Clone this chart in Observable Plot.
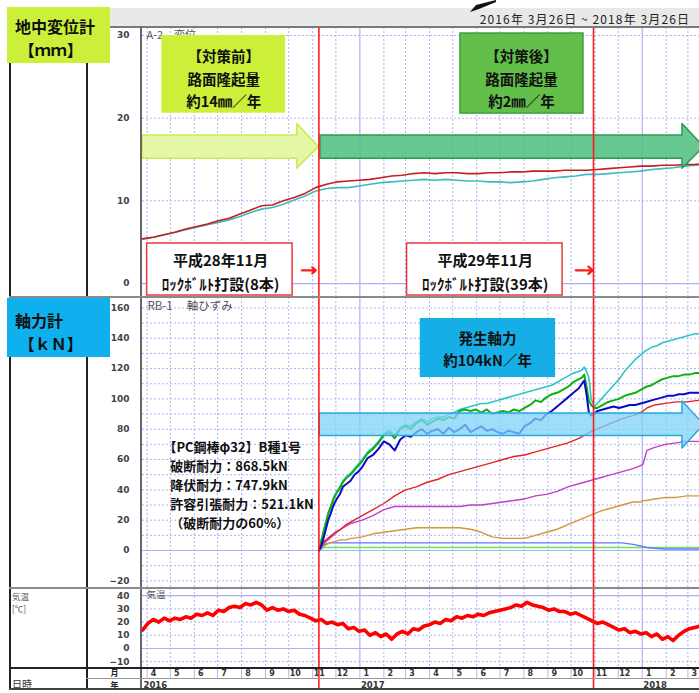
<!DOCTYPE html>
<html lang="ja"><head><meta charset="utf-8">
<script src="https://cdn.jsdelivr.net/npm/d3@7"></script>
<script src="https://cdn.jsdelivr.net/npm/@observablehq/plot@0.6"></script>
<style>
html,body{margin:0;padding:0;background:#fff}
#fig{position:relative;width:699px;height:693px;overflow:hidden;background:#fff;font-family:"Noto Sans CJK JP","Noto Sans",sans-serif}
#fig svg.plot{position:absolute;left:0;overflow:hidden}
.d{position:absolute;box-sizing:border-box;white-space:nowrap}
</style></head><body><div id="fig"></div><script>
// ---------------- data ----------------
const viewStart = "2016-03-26";
const viewEnd = "2018-03-16";
const headerText = "2016年 3月26日 ~ 2018年 3月26日";
const eventDates = ["2016-11-09", "2017-10-30"];

const dispTicks = [0, 10, 20, 30];
const forceTicks = [-20, 0, 20, 40, 60, 80, 100, 120, 140, 160];
const tempTicks = [-10, 0, 10, 20, 30, 40];
const yearLabels = ["2016", "2017", "2018"];
const yearLabelDates = ["2016-03-26", "2017-01-01", "2018-01-01"];

// 地中変位計 A-2 (mm), one value every 14 days from dispStart
const dispStart = "2016-03-26";
const dispStepDays = 14;
const dispRed = [5.4,5.6,5.9,6.2,6.6,6.9,7.2,7.6,7.9,8.4,8.9,9.4,9.5,10.0,10.4,10.9,11.6,12.0,12.3,12.4,12.5,12.6,12.8,13.0,13.1,13.3,13.4,13.3,13.4,13.4,13.3,13.3,13.4,13.4,13.5,13.5,13.6,13.6,13.6,13.7,13.7,13.7,13.8,13.9,14.0,14.1,14.2,14.2,14.3,14.3,14.4,14.4,14.5];
const dispCyan = [5.4,5.6,5.9,6.2,6.5,6.8,7.1,7.4,7.7,8.1,8.6,9.0,9.2,9.6,10.1,10.6,11.2,11.5,11.6,11.6,11.8,12.0,12.2,12.3,12.4,12.5,12.6,12.5,12.6,12.5,12.4,12.4,12.3,12.3,12.2,12.3,12.4,12.6,12.8,12.9,13.0,13.2,13.2,13.3,13.4,13.5,13.6,13.8,13.9,14.0,14.2,14.3,14.4];

// 軸力計 RB-1 (kN), days after forceStart
const forceStart = "2016-11-09";
const forceOffsets = [0,3,6,9,12,15,19,23,27,31,36,41,46,51,56,63,70,77,84,91,98,105,112,119,126,133,140,147,154,161,168,175,182,189,196,203,210,217,224,231,238,245,252,259,266,273,280,287,294,301,308,315,322,329,336,340,343,346,349,352,356,360,367,374,381,388,395,402,409,416,423,430,437,444,451,458,465,472,479,486,493,500];
const forceCyan = [0,7,13,19,25,29,35,39,42,46,49,51,54,57,60,65,68,72,77,79,76,81,83,82,85,87,85,87,88,88,90,91,93,94,95,96,97,97,98,99,100,101,102,103,104,105,106,107,108,109,111,113,115,117,118,119,121,118,114,100,95,97,101,105,109,113,118,122,126,129,132,134,135,137,138,139,140,141,142,143,143,144];
const forceGreen = [0,6,12,18,24,28,34,38,41,45,48,50,53,56,59,64,67,71,76,78,74,80,82,80,84,86,83,85,87,86,88,87,92,93,92,93,91,93,90,91,92,91,93,92,94,96,99,98,101,103,104,106,108,111,113,114,116,108,99,96,94,94,96,98,99,100,102,103,104,106,108,109,111,113,114,115,115,116,116,117,117,117];
const forceBlue = [0,3,8,14,20,24,30,34,37,42,44,46,50,52,55,61,63,67,72,70,66,73,76,75,78,80,77,79,80,77,81,78,80,83,78,80,82,79,80,78,77,79,78,77,82,84,87,86,90,92,95,98,101,104,107,110,112,103,91,89,90,92,93,94,95,94,95,96,96,97,98,99,100,101,102,102,103,103,104,104,104,105];
const smoothOffsets = [0,3,7,14,21,28,35,42,56,70,84,98,112,126,140,154,168,182,196,210,224,238,252,266,280,294,308,322,336,350,364,378,392,406,416,419,424,434,448,462,476,490,504];
const forceRed = [0,3,6,9,12,14,17,19,23,27,31,36,40,42,45,47,50,52,54,56,58,60,62,63,65,67,69,71,74,78,81,84,87,89,91,92,94,96,97,98,98,99,99];
const forceMagenta = [0,2,5,8,11,14,16,18,20,23,27,29,29,29,29,29,29,29,30,30,31,32,33,34,36,37,39,42,44,46,48,50,52,54,56,57,66,68,70,71,72,72,72];
const forceOrange = [0,2,3,5,6,7,7,8,9,11,12,13,14,15,15,15,15,15,14,12,9,8,8,8,10,12,14,17,20,23,26,28,30,32,32,33,33,34,35,35,36,36,36];
const forceLightBlue = [0,2,4,5,5,5,5,5,5,5,5,5,5,5,5,5,5,5,5,5,5,5,5,5,5,5,5,5,5,5,5,5,5,4,3,2.5,2,1.5,1,1,1,1,1];
const forceLightGreen = [0,1,2,2,2,2,2,2,2,2,2,2,2,2,2,2,2,2,2,2,2,2,2,2,2,2,2,2,2,2,2,2,2,2,2,2,2,2,2,2,2,2,2];

// 気温 (℃), one value every 7 days
const tempStart = "2016-03-26";
const tempStepDays = 7;
const tempValues = [14,19,22,20,23,21,23,22,24,23, 26,25,27,25,29,28,31,32,31,34, 33,35,33,29,31,29,30,28,29,26, 25,23,21,22,19,20,18,19,15,16, 13,14,10,12,9,11,7,11,13,11, 15,14,17,18,20,19,22,21,24,23, 25,24,26,25,27,28,29,30,31,33, 32,35,33,32,31,29,30,28,28,26, 27,25,23,21,19,20,18,16,14,15, 12,13,11,12,9,11,7,9,6,10, 13,15,16,17,18];

// ---------------- helpers ----------------
const JP = '"Noto Sans CJK JP","Noto Sans",sans-serif';
const NUM = '"DejaVu Sans",sans-serif';
const D = s => new Date(s + "T00:00:00Z");
const addDays = (s, n) => new Date(D(s).getTime() + n * 864e5);
const rows = (start, offsets, values) => values.map((v, i) => ({date: addDays(start, offsets[i]), value: v}));
const stepRows = (start, step, values) => values.map((v, i) => ({date: addDays(start, i * step), value: v}));

const xScale = {type: "utc", domain: [D(viewStart), D(viewEnd)], axis: null};
const monthStarts = d3.utcMonth.range(D(viewStart), D(viewEnd));
const yearStarts = d3.utcYear.range(D(viewStart), D(viewEnd));
const monthGrid = monthStarts.filter(d => d.getUTCMonth() !== 0);
const GRID = "#aeb0f5";
const RED = "#ff1a1a";

function frameMarks(dotted, solid) {
  return [
    Plot.ruleY(dotted, {stroke: GRID, strokeDasharray: "2,2"}),
    Plot.ruleY(solid, {stroke: GRID, strokeWidth: 1.2}),
    Plot.ruleX(monthGrid, {stroke: GRID, strokeDasharray: "2,2"}),
    Plot.ruleX(yearStarts, {stroke: GRID, strokeWidth: 1.2})
  ];
}
const axisOpts = {anchor: "left", tickSize: 0, tickPadding: 13, fontFamily: NUM, fontSize: 9, fontWeight: "bold", color: "#444", label: null};
const events = () => Plot.ruleX(eventDates.map(D), {stroke: RED, strokeWidth: 1.6});
function arrowShape(x0, xh, xt, body, head) {
  const c = (body[0] + body[1]) / 2;
  return [
    {x: D(x0), y1: body[0], y2: body[1]},
    {x: D(xh), y1: body[0], y2: body[1]},
    {x: D(xh), y1: head[0], y2: head[1]},
    {x: D(xt), y1: c, y2: c}
  ];
}
const arrowMark = (shape, fill, stroke, fo) => Plot.area(shape, {x1: "x", y1: "y1", y2: "y2", fill, fillOpacity: fo, stroke, strokeWidth: 1.5, curve: "linear"});
const boxMark = (x1, x2, y1, y2, o) => Plot.rect([{x1: D(x1), x2: D(x2), y1, y2}], {x1: "x1", x2: "x2", y1: "y1", y2: "y2", ...o});
const label = (x, y, t, o) => Plot.text([{x: D(x), y, t}], {x: "x", y: "y", text: "t", fontFamily: JP, ...o});
const series = (data, stroke, w) => Plot.line(data, {x: "date", y: "value", stroke, strokeWidth: w, curve: "linear"});
function panel(height, domain, marks) {
  return Plot.plot({width: 699, height, marginLeft: 142, marginRight: 0, marginTop: 0, marginBottom: 0,
    x: xScale, y: {domain, axis: null}, style: {background: "transparent", overflow: "hidden"}, marks});
}
const bold = {fontWeight: "bold", fill: "#111"};

// ---------------- panel 1: 地中変位計 ----------------
const p1 = panel(270, [-1.69, 30.97], [
  ...frameMarks([10, 20, 30], [0]),
  Plot.axisY(dispTicks, axisOpts),
  Plot.text(["A-2　変位"], {frameAnchor: "top-left", dx: 4, dy: 4, fontSize: 11, fill: "#555", fontFamily: JP}),
  series(stepRows(dispStart, dispStepDays, dispCyan), "#3cbcbc", 1.6),
  series(stepRows(dispStart, dispStepDays, dispRed), "#c41e1e", 1.6),
  arrowMark(arrowShape("2016-03-26", "2016-10-12", "2016-11-09", [15.1, 17.9], [13.9, 19.3]), "#e4f7a6", "#c9ec55", 1),
  arrowMark(arrowShape("2016-11-11", "2018-02-22", "2018-03-22", [15.1, 17.9], [13.9, 19.3]), "#4cc07e", "#2a9a55", 0.85),
  boxMark("2016-04-20", "2016-09-27", 20.6, 30.0, {fill: "#ccf03a"}),
  label("2016-07-09", 24.9, "【対策前】\n路面隆起量\n約14㎜／年", {fontSize: 14.5, lineHeight: 1.55, ...bold}),
  boxMark("2017-05-11", "2017-10-17", 20.56, 30.24, {fill: "#62bf4a", stroke: "#3f9f3a", strokeWidth: 1.5}),
  label("2017-07-29", 24.9, "【対策後】\n路面隆起量\n約2㎜／年", {fontSize: 14.5, lineHeight: 1.55, ...bold}),
  boxMark("2016-04-01", "2016-10-06", -1.45, 4.84, {fill: "white", stroke: "#e8383d", strokeWidth: 1.5}),
  label("2016-07-05", 1.57, "平成28年11月\nﾛｯｸﾎﾞﾙﾄ打設(8本)", {fontSize: 15, lineHeight: 1.56, ...bold}),
  boxMark("2017-03-03", "2017-09-20", -1.45, 4.84, {fill: "white", stroke: "#e8383d", strokeWidth: 1.5}),
  label("2017-06-12", 1.57, "平成29年11月\nﾛｯｸﾎﾞﾙﾄ打設(39本)", {fontSize: 15, lineHeight: 1.56, ...bold}),
  Plot.arrow([{x1: D("2016-10-18"), x2: D("2016-11-05"), y: 1.6}, {x1: D("2017-10-07"), x2: D("2017-10-29"), y: 1.6}],
    {x1: "x1", x2: "x2", y1: "y", y2: "y", stroke: RED, strokeWidth: 2.2, headLength: 6, headAngle: 80}),
  events()
]);

// ---------------- panel 2: 軸力計 ----------------
const pcLines = ["【PC鋼棒φ32】B種1号", "破断耐力：868.5kN", "降伏耐力：747.9kN", "許容引張耐力：521.1kN", "（破断耐力の60%）"];
const pcLineValues = [67.9, 55.4, 42.9, 30.3, 17.8];
const p2 = panel(291, [-25.07, 166.87], [
  ...frameMarks([-20, -10, 10, 20, 30, 40, 50, 60, 70, 80, 90, 100, 110, 120, 130, 140, 150, 160], [0]),
  Plot.axisY(forceTicks, axisOpts),
  Plot.text(["RB-1　 軸ひずみ"], {frameAnchor: "top-left", dx: 5, dy: 4, fontSize: 11.5, fill: "#555", fontFamily: JP}),
  series(rows(forceStart, smoothOffsets, forceLightGreen), "#5fe85f", 1.6),
  series(rows(forceStart, smoothOffsets, forceLightBlue), "#7070ff", 1.4),
  series(rows(forceStart, smoothOffsets, forceOrange), "#d4963c", 1.4),
  series(rows(forceStart, smoothOffsets, forceMagenta), "#c23fc8", 1.4),
  series(rows(forceStart, smoothOffsets, forceRed), "#e02424", 1.4),
  series(rows(forceStart, forceOffsets, forceCyan), "#2cc6c6", 1.6),
  series(rows(forceStart, forceOffsets, forceGreen), "#10b010", 2),
  series(rows(forceStart, forceOffsets, forceBlue), "#0a0ac8", 2),
  arrowMark(arrowShape("2016-11-10", "2018-02-22", "2018-03-22", [75.5, 90.4], [67.3, 98.2]), "#7fd3f5", "#22a9e2", 0.75),
  boxMark("2017-03-20", "2017-09-11", 114.1, 153.0, {fill: "#16aee6"}),
  label("2017-06-15", 133.6, "発生軸力\n約104kN／年", {fontSize: 14.5, lineHeight: 1.5, ...bold}),
  label("2016-04-22", pcLineValues[0], pcLines[0], {fontSize: 13, textAnchor: "start", ...bold}),
  label("2016-05-01", pcLineValues[1], pcLines[1], {fontSize: 13, textAnchor: "start", ...bold}),
  label("2016-05-01", pcLineValues[2], pcLines[2], {fontSize: 13, textAnchor: "start", ...bold}),
  label("2016-05-01", pcLineValues[3], pcLines[3], {fontSize: 13, textAnchor: "start", ...bold}),
  label("2016-05-01", pcLineValues[4], pcLines[4], {fontSize: 13, textAnchor: "start", ...bold}),
  events()
]);

// ---------------- panel 3: 気温 ----------------
const p3 = panel(80, [-15.15, 45.45], [
  ...frameMarks([-10, 10, 20, 30], [0, 40]),
  Plot.axisY(tempTicks, axisOpts),
  Plot.text(["気温"], {frameAnchor: "top-left", dx: 4, dy: 3, fontSize: 9.5, fill: "#555", fontFamily: JP}),
  series(stepRows(tempStart, tempStepDays, tempValues), "#ff0000", 3.6),
  events()
]);

// ---------------- date axis ----------------
const p4 = Plot.plot({width: 699, height: 25, marginLeft: 142, marginRight: 0, marginTop: 0, marginBottom: 0,
  x: xScale, y: {domain: [0, 25], reverse: true, axis: null}, style: {background: "transparent", overflow: "hidden"},
  marks: [
    Plot.ruleX(monthStarts, {y1: 0, y2: 10, stroke: "#b8b8f0"}),
    Plot.text(monthStarts, {x: d => d, y: 5.2, text: d => String(d.getUTCMonth() + 1), dx: 6.5, fontFamily: NUM, fontSize: 8, fontWeight: "bold", fill: "#333"}),
    Plot.text(yearLabelDates.map((d, i) => ({x: D(d), t: yearLabels[i]})), {x: "x", y: 16.5, text: "t", textAnchor: "start", dx: 1, fontFamily: NUM, fontSize: 8.5, fontWeight: "bold", fill: "#333"}),
    Plot.ruleX(eventDates.map(D), {y1: 0, y2: 20, stroke: RED, strokeWidth: 1.6})
  ]});

// ---------------- assemble ----------------
const fig = document.getElementById("fig");
function put(el, top) { el.style.position = "absolute"; el.style.left = "0px"; el.style.top = top + "px"; fig.appendChild(el); }
put(p1, 27); put(p2, 297); put(p3, 588); put(p4, 668);

function div(l, t, w, h, css, html) {
  const e = document.createElement("div");
  e.className = "d";
  e.style.cssText += `left:${l}px;top:${t}px;width:${w}px;height:${h}px;` + (css || "");
  if (html) e.innerHTML = html;
  fig.appendChild(e);
  return e;
}
// header band
div(100, 8, 599, 18, "background:#e9e9e9;");
div(300, 8, 390, 20, "text-align:right;font-size:12px;line-height:22px;letter-spacing:1.1px;color:#222;", headerText);
div(100, 26, 599, 2, "background:#7a7a7a;");
// frame lines
div(9, 27, 1.5, 662, "background:#222;");
div(86, 27, 1.5, 662, "background:#222;");
div(140, 27, 2, 662, "background:#666;");
div(9, 296, 690, 2, "background:#8a8a8a;");
div(9, 587, 690, 2, "background:#8a8a8a;");
div(9, 667, 690, 1.5, "background:#222;");
div(86, 677.5, 613, 1, "background:#999;");
div(9, 688, 690, 1.5, "background:#444;");
// left labels (one element per line)
const lab = "font-size:16px;font-weight:bold;line-height:23px;color:#111;";
div(7, 7, 103, 56, "background:#ccf03a;");
div(15, 14.5, 90, 23, lab, "地中変位計");
div(15, 38, 90, 23, lab, "&nbsp;【ｍｍ】");
div(7, 298, 103, 59, "background:#0fb0ee;");
div(15, 308.5, 90, 23, lab, "軸力計");
div(15, 332, 90, 23, lab, "&nbsp;【ｋＮ】");
div(12, 590, 40, 12, "font-size:8.5px;line-height:12px;color:#555;", "気温");
div(12, 602, 40, 12, "font-size:8.5px;line-height:12px;color:#555;", "[℃]");
div(12, 678, 40, 12, "font-size:10px;line-height:12px;color:#333;", "日時");
div(88, 666.8, 53, 11.5, "font-size:8px;line-height:11.5px;color:#222;text-align:center;font-weight:bold;", "月");
div(88, 678.6, 53, 11.5, "font-size:8px;line-height:11.5px;color:#222;text-align:center;font-weight:bold;", "年");
// small black pointer at the top
const ns = "http://www.w3.org/2000/svg";
const sv = document.createElementNS(ns, "svg");
sv.setAttribute("width", "40"); sv.setAttribute("height", "14");
sv.style.cssText = "position:absolute;left:466px;top:0px";
const pth = document.createElementNS(ns, "path");
pth.setAttribute("d", "M4,12 L10,5 L30,0 L30,2 L13,9 Z");
pth.setAttribute("fill", "#111");
sv.appendChild(pth); fig.appendChild(sv);
</script></body></html>
